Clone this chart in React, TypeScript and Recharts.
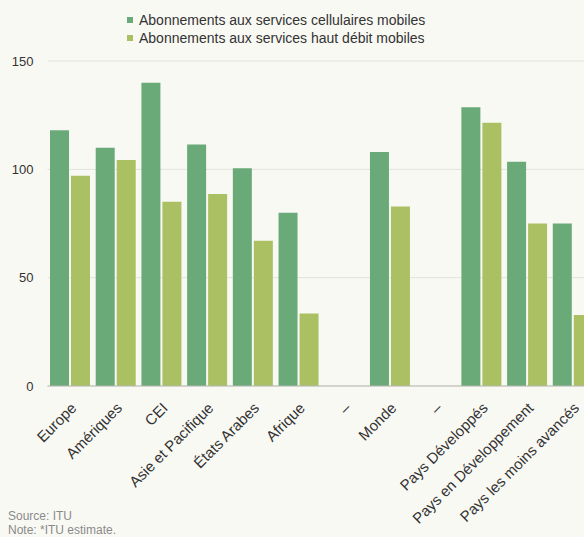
import React from "react";
import { BarChart, Bar, XAxis, YAxis, CartesianGrid, Legend } from "recharts";

const categories = [
  "Europe",
  "Amériques",
  "CEI",
  "Asie et Pacifique",
  "États Arabes",
  "Afrique",
  "–",
  "Monde",
  "– ",
  "Pays Développés",
  "Pays en Développement",
  "Pays les moins avancés",
];
const cellular: (number | null)[] = [118, 110, 140, 111.5, 100.5, 80, null, 108, null, 128.6, 103.5, 75];
const broadband: (number | null)[] = [97, 104.3, 85, 88.6, 67, 33.5, null, 82.8, null, 121.5, 75, 32.8];
const yTicks = [0, 50, 100, 150];
const seriesNames = [
  "Abonnements aux services cellulaires mobiles",
  "Abonnements aux services haut débit mobiles",
];
const colors = ["#6aaa79", "#aac063"];

const data = categories.map((c, i) => ({ name: c, cell: cellular[i], bb: broadband[i] }));

const FONT = "'Liberation Sans', Arial, Helvetica, sans-serif";

const XTick = (props: any) => {
  const { x, y, payload } = props;
  const ax = x + 7;
  const ay = y + 21;
  return (
    <text
      x={ax}
      y={ay}
      transform={`rotate(-45, ${ax}, ${ay})`}
      textAnchor="end"
      fontSize={15}
      fill="#333"
      fontFamily={FONT}
    >
      {payload.value}
    </text>
  );
};

const LegendContent = () => (
  <div style={{ fontFamily: FONT, fontSize: 14, color: "#333" }}>
    {seriesNames.map((n, i) => (
      <div key={n} style={{ display: "flex", alignItems: "center", height: 18, lineHeight: "18px" }}>
        <span
          style={{
            display: "inline-block",
            width: 6,
            height: 6,
            background: colors[i],
            marginRight: 6,
          }}
        />
        <span>{n}</span>
      </div>
    ))}
  </div>
);

export default function App() {
  return (
    <div
      style={{
        position: "fixed",
        left: 0,
        top: 0,
        width: 584,
        height: 537,
        overflow: "hidden",
        background: "#f9f9f4",
        fontFamily: FONT,
      }}
    >
      <BarChart
        width={596}
        height={537}
        data={data}
        margin={{ top: 61, right: 0, left: 0, bottom: 11 }}
        barGap={2}
        barCategoryGap={2.5}
      >
        <CartesianGrid vertical={false} stroke="#e3e3dd" />
        <XAxis
          dataKey="name"
          interval={0}
          height={140}
          tickLine={false}
          axisLine={{ stroke: "#b9b9b5" }}
          tick={<XTick />}
          tickSize={0}
        />
        <YAxis
          width={47.5}
          domain={[0, 150]}
          ticks={yTicks}
          axisLine={false}
          tickLine={false}
          tickSize={0}
          tickMargin={14}
          tick={{ fontSize: 13, fill: "#333", fontFamily: FONT }}
        />
        <Legend
          layout="vertical"
          verticalAlign="middle"
          align="center"
          content={<LegendContent />}
          wrapperStyle={{ position: "absolute", top: 11, left: 127, width: "auto", height: "auto" }}
        />
        <Bar dataKey="cell" name={seriesNames[0]} fill={colors[0]} isAnimationActive={false} />
        <Bar dataKey="bb" name={seriesNames[1]} fill={colors[1]} isAnimationActive={false} />
      </BarChart>
      <div
        style={{
          position: "absolute",
          left: 8,
          top: 509,
          fontSize: 12,
          lineHeight: "14px",
          color: "#8a8a8a",
          fontFamily: FONT,
        }}
      >
        <div>Source: ITU</div>
        <div>Note: *ITU estimate.</div>
      </div>
    </div>
  );
}
